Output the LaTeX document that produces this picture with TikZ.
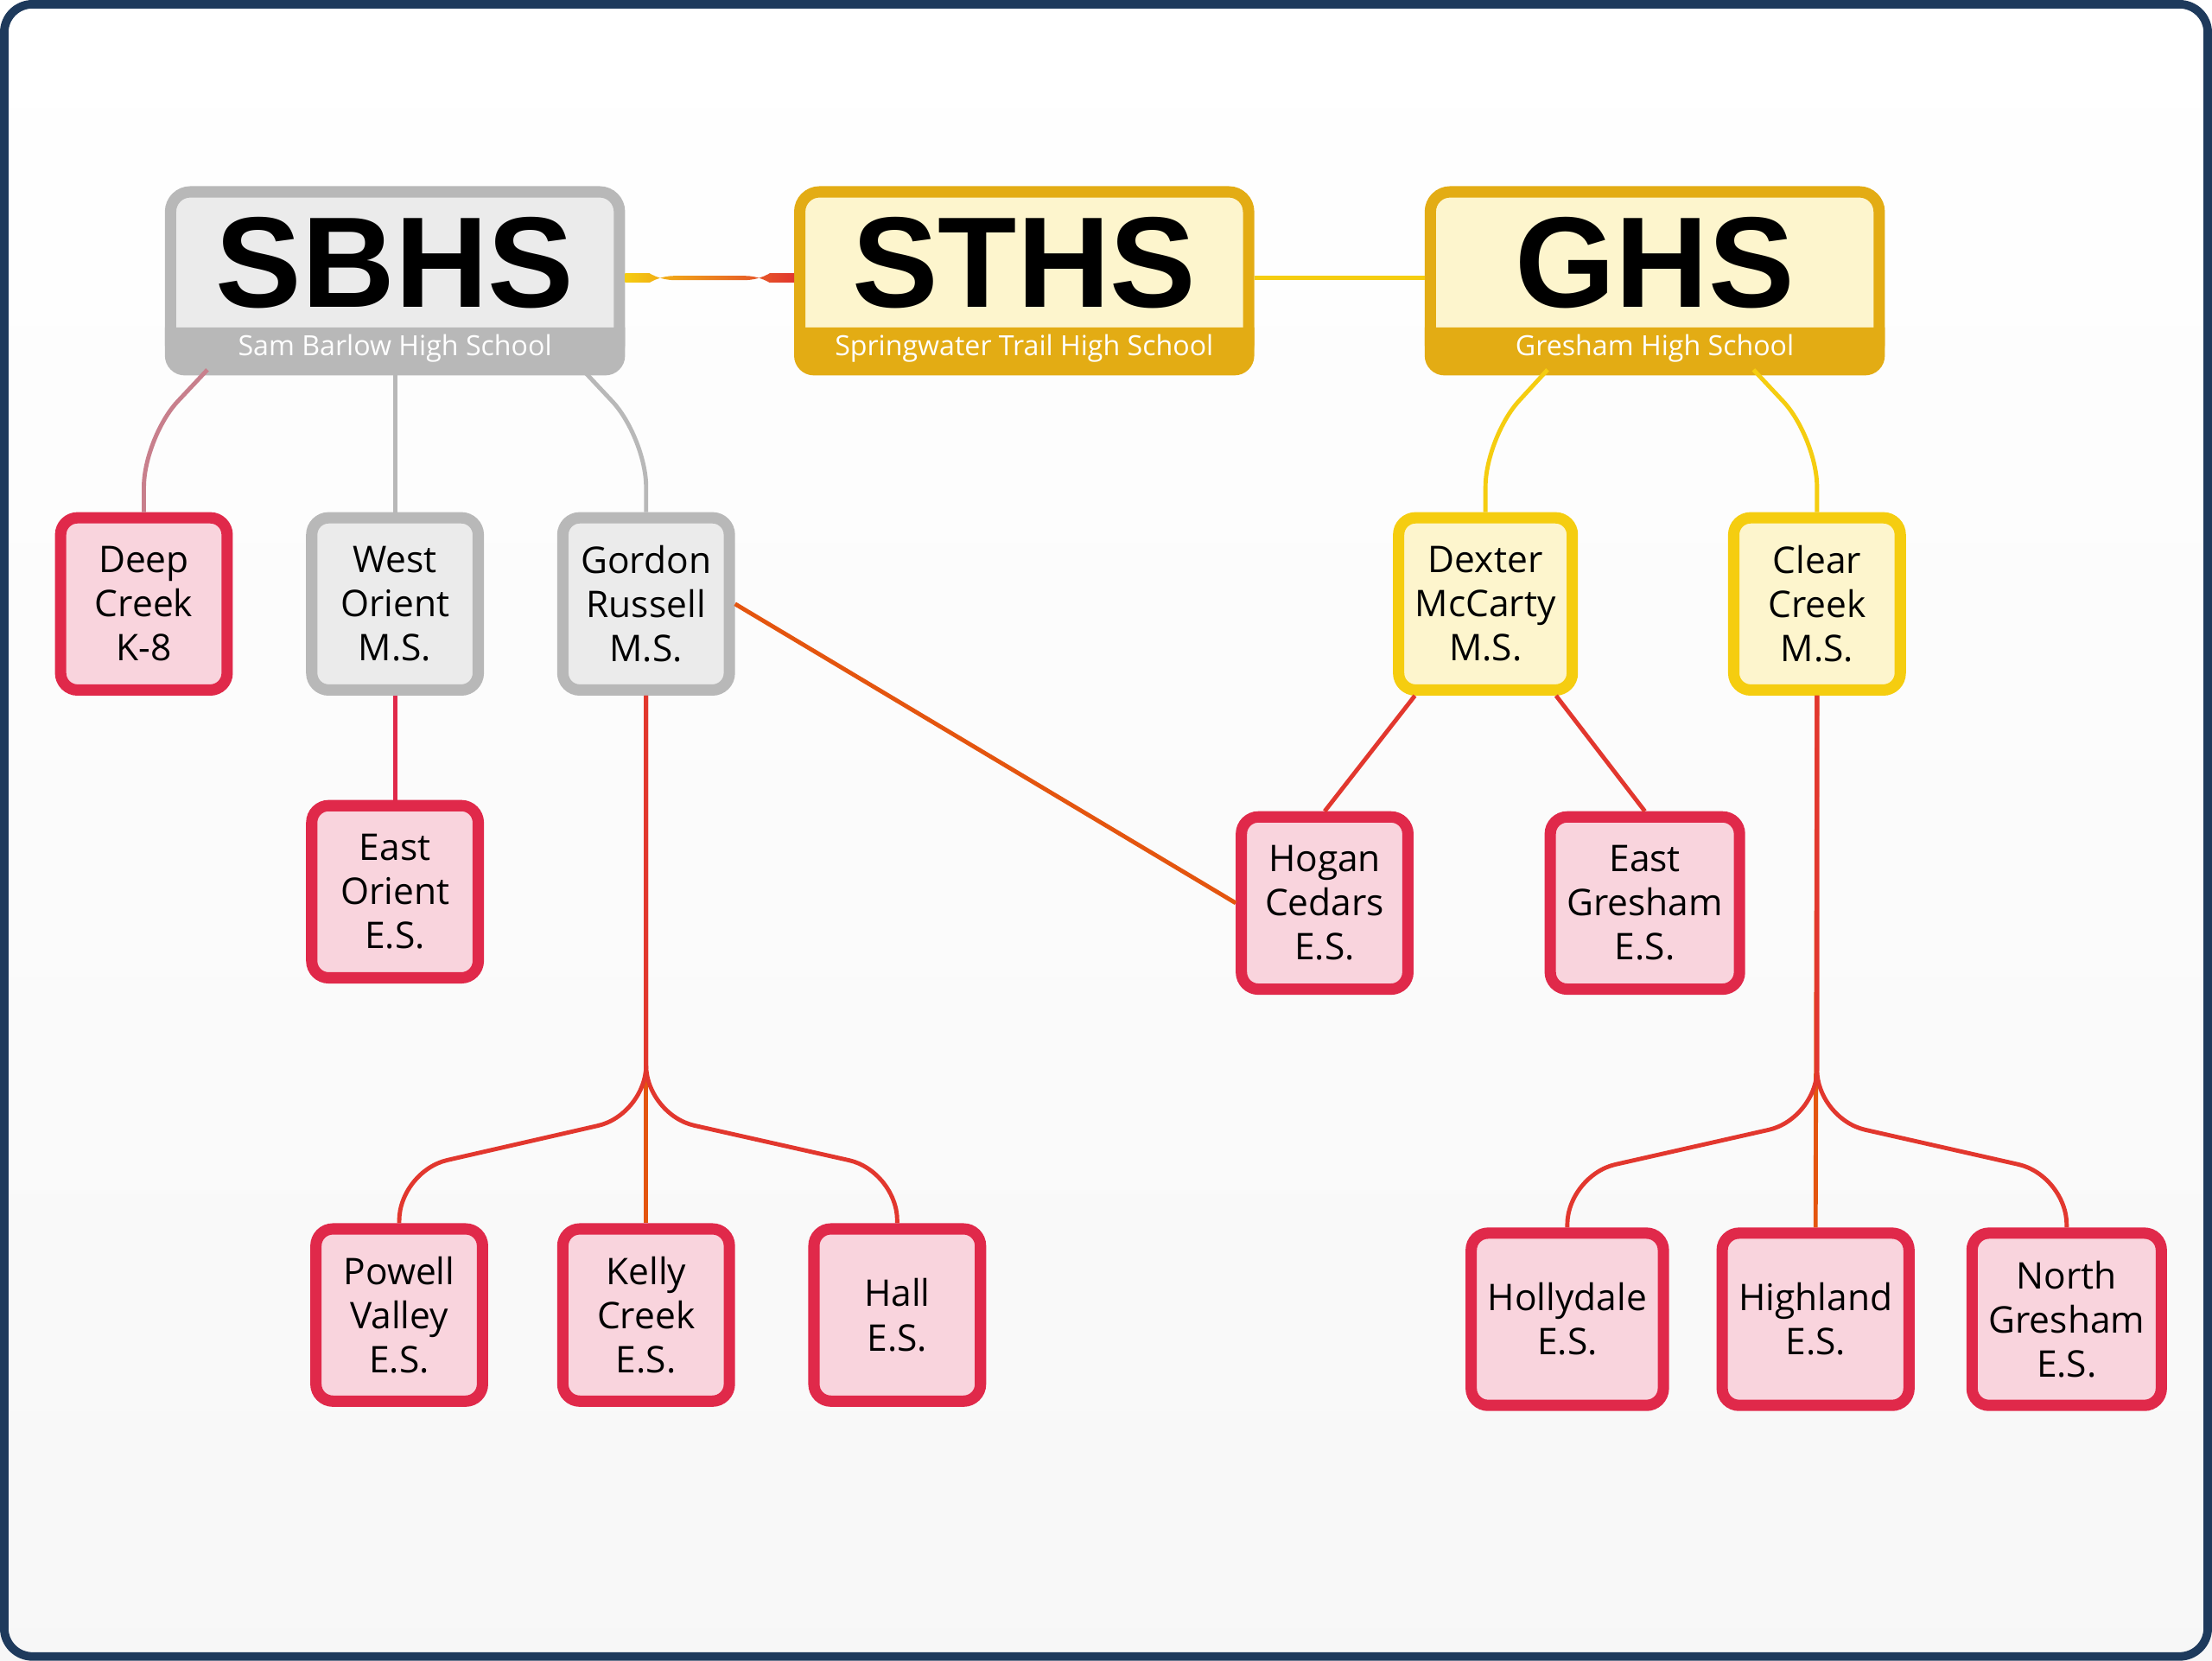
\documentclass[tikz,border=0pt]{standalone}
\usepackage{fontspec}
\setmainfont{Open Sans}
\newfontfamily\headfont{Liberation Sans}
\usetikzlibrary{calc, positioning}

\definecolor{navy}{HTML}{1E3A5C}
\definecolor{grayline}{HTML}{B8B8B8}
\definecolor{grayfill}{HTML}{EBEBEB}
\definecolor{goldline}{HTML}{E3AC14}
\definecolor{goldfill}{HTML}{FDF5CD}
\definecolor{yelline}{HTML}{F5CD10}
\definecolor{redline}{HTML}{E0294A}
\definecolor{redfill}{HTML}{F9D4DD}
\definecolor{orange}{HTML}{E4550F}
\definecolor{redor}{HTML}{E2372E}

\begin{document}
\begin{tikzpicture}[
        x = 0.01cm, y = -0.01cm,
        semithick
    ]

    \tikzset{
        head/.style = {draw, line width=0.08cm, rounded corners=0.14cm,
            minimum width=3.18cm, minimum height=1.22cm},
        school/.style = {draw, line width=0.08cm, rounded corners=0.12cm,
            minimum width=1.18cm, minimum height=1.22cm, align=center,
            font=\fontsize{7.4pt}{8.9pt}\selectfont},
        es/.style = {school, draw=redline, fill=redfill},
        ms/.style = {school, draw=grayline, fill=grayfill},
        ym/.style = {school, draw=yelline, fill=goldfill},
        big/.style = {font=\headfont\bfseries\fontsize{26pt}{26pt}\selectfont},
        sub/.style = {font=\fontsize{5.6pt}{6pt}\selectfont, text=white},
        link/.style = {line width=0.03cm, rounded corners=0.35cm}
    }

    % frame and background
    \shade[top color=white, bottom color=black!3] (0,0) rectangle (1568,1177);
    \draw[navy, line width=0.06cm, rounded corners=0.2cm] (3,3) rectangle (1565,1174);

    % high schools
    \node[head, draw=grayline, fill=grayfill] (sbhs) at (280,197) {};
    \node[head, draw=goldline, fill=goldfill] (sths) at (726,197) {};
    \node[head, draw=goldline, fill=goldfill] (ghs) at (1173,197) {};
    \foreach \h/\c in {sbhs/grayline, sths/goldline, ghs/goldline}
        \fill[\c] ([yshift=0.3cm]\h.south west) {[rounded corners=0.14cm]
            -- ([yshift=-0.04cm]\h.south west) -- ([yshift=-0.04cm]\h.south east)}
            -- ([yshift=0.3cm]\h.south east) -- cycle;
    \node[big] (sbhsT) at (280,186) {SBHS};
    \node[big] (sthsT) at (726,186) {STHS};
    \node[big] (ghsT) at (1173,186) {GHS};
    \node[sub] (sbhsS) at (280,247) {Sam Barlow High School};
    \node[sub] (sthsS) at (726,247) {Springwater Trail High School};
    \node[sub] (ghsS) at (1173,247) {Gresham High School};

    % middle schools
    \node[es] (deep) at (102,428) {Deep\\Creek\\K-8};
    \node[ms] (west) at (280,428) {West\\Orient\\M.S.};
    \node[ms] (gordon) at (458,428) {Gordon\\Russell\\M.S.};
    \node[ym] (dexter) at (1053,428) {Dexter\\McCarty\\M.S.};
    \node[ym] (clear) at (1288,428) {Clear\\Creek\\M.S.};

    % elementary schools
    \node[es] (eorient) at (280,632) {East\\Orient\\E.S.};
    \node[es] (hogan) at (939,640) {Hogan\\Cedars\\E.S.};
    \node[es] (egresham) at (1166,640) {East\\Gresham\\E.S.};
    \node[es] (powell) at (283,932) {Powell\\Valley\\E.S.};
    \node[es] (kelly) at (458,932) {Kelly\\Creek\\E.S.};
    \node[es] (hall) at (636,932) {Hall\\E.S.};
    \node[es] (holly) at (1111,935) {Hollydale\\E.S.};
    \node[es] (high) at (1287,935) {Highland\\E.S.};
    \node[es] (ngresham) at (1465,935) {North\\Gresham\\E.S.};

    % links between high schools
    \draw[link, left color=yelline, right color=redor, draw=none]
        ([yshift=0.015cm]sbhs.east) rectangle ([yshift=-0.015cm]sths.west);
    \draw[link, yelline] (sths.east) -- (ghs.west);

    % high school to middle school
    \draw[link, grayline!60!redline] ($(sbhs.south)+(-133,0)$) -- (102,310) -- (deep.north);
    \draw[link, grayline] (sbhs.south) -- (west.north);
    \draw[link, grayline] ($(sbhs.south)+(133,0)$) -- (458,310) -- (gordon.north);
    \draw[link, yelline] ($(ghs.south)+(-76,0)$) -- (1053,310) -- (dexter.north);
    \draw[link, yelline] ($(ghs.south)+(70,0)$) -- (1288,310) -- (clear.north);

    % middle school to elementary school
    \draw[link, redline] (west.south) -- (eorient.north);
    \draw[link, orange] (gordon.east) -- (hogan.west);
    \draw[link, redor] ([xshift=-0.5cm]dexter.south) -- (hogan.north);
    \draw[link, redor] ([xshift=0.5cm]dexter.south) -- (egresham.north);
    \draw[link, orange] (gordon.south) -- (kelly.north);
    \draw[link, redor] (gordon.south) -- (458,790) -- (283,830) -- (powell.north);
    \draw[link, redor] (gordon.south) -- (458,790) -- (636,830) -- (hall.north);
    \draw[link, orange] (clear.south) -- (high.north);
    \draw[link, redor] (clear.south) -- (1288,793) -- (1111,833) -- (holly.north);
    \draw[link, redor] (clear.south) -- (1288,793) -- (1465,833) -- (ngresham.north);
\end{tikzpicture}
\end{document}
